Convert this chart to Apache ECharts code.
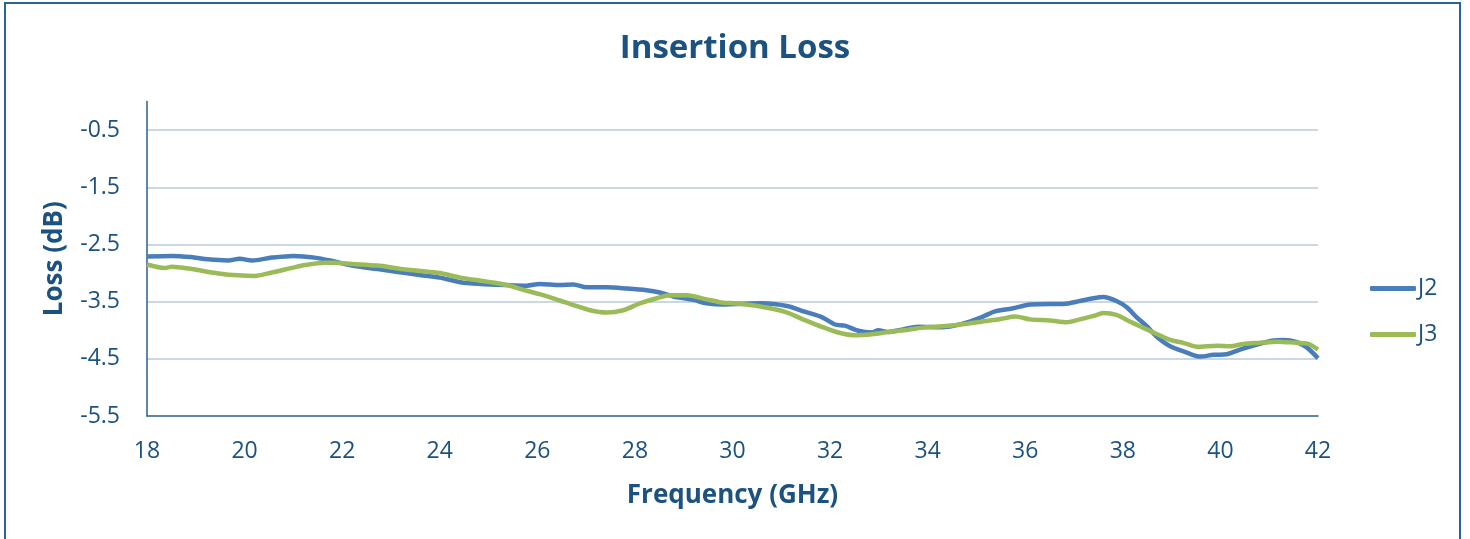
<!DOCTYPE html>
<html>
<head>
<meta charset="utf-8">
<script src="https://cdn.jsdelivr.net/npm/echarts@6/dist/echarts.min.js"></script>
<style>
html,body{margin:0;padding:0;background:#fff;}
#chart{width:1470px;height:539px;}
</style>
</head>
<body>
<div id="chart"></div>
<script>
const titleText = 'Insertion Loss';
const xAxisName = 'Frequency (GHz)';
const yAxisName = 'Loss (dB)';
const seriesNames = ['J2', 'J3'];

const j2Freq = [18.0, 18.5, 18.9, 19.25, 19.66, 19.9, 20.15, 20.56, 21.0, 21.44, 21.8, 22.2, 22.73, 23.14, 23.55, 24.0, 24.42, 24.83, 25.37, 25.78, 26.05, 26.46, 26.74, 27.01, 27.42, 27.83, 28.24, 28.51, 28.79, 29.2, 29.47, 29.81, 30.05, 30.6, 31.14, 31.42, 31.83, 32.1, 32.3, 32.58, 32.86, 32.99, 33.19, 33.47, 33.81, 34.29, 34.7, 35.11, 35.38, 35.73, 36.1, 36.51, 36.78, 37.12, 37.4, 37.6, 37.87, 38.08, 38.28, 38.49, 38.69, 38.97, 39.31, 39.58, 39.86, 40.13, 40.4, 40.75, 41.09, 41.29, 41.57, 41.77, 42.0];
const j2Loss = [-2.71, -2.70, -2.72, -2.76, -2.78, -2.75, -2.78, -2.73, -2.70, -2.73, -2.79, -2.87, -2.93, -2.98, -3.03, -3.08, -3.16, -3.19, -3.21, -3.22, -3.19, -3.21, -3.20, -3.25, -3.25, -3.27, -3.30, -3.34, -3.41, -3.47, -3.53, -3.55, -3.54, -3.53, -3.58, -3.66, -3.77, -3.90, -3.92, -4.01, -4.04, -4.00, -4.03, -3.99, -3.94, -3.95, -3.89, -3.77, -3.67, -3.62, -3.55, -3.54, -3.54, -3.49, -3.44, -3.42, -3.49, -3.60, -3.77, -3.93, -4.11, -4.28, -4.39, -4.46, -4.43, -4.42, -4.34, -4.25, -4.18, -4.17, -4.21, -4.30, -4.49];

const j3Freq = [18.0, 18.37, 18.5, 18.92, 19.33, 19.67, 20.2, 20.56, 20.97, 21.24, 21.65, 21.85, 22.2, 22.73, 23.14, 23.55, 24.0, 24.42, 24.96, 25.37, 25.78, 26.05, 26.46, 26.74, 27.08, 27.42, 27.76, 28.1, 28.45, 28.72, 29.06, 29.47, 29.81, 30.05, 30.6, 31.08, 31.42, 31.83, 32.17, 32.51, 32.86, 33.19, 33.6, 33.95, 34.29, 34.77, 35.11, 35.52, 35.79, 36.1, 36.51, 36.85, 37.12, 37.4, 37.6, 37.87, 38.08, 38.35, 38.63, 38.97, 39.24, 39.52, 39.93, 40.2, 40.47, 40.81, 41.16, 41.57, 41.77, 42.0];
const j3Loss = [-2.85, -2.91, -2.89, -2.93, -2.99, -3.03, -3.05, -2.99, -2.91, -2.86, -2.82, -2.82, -2.84, -2.87, -2.92, -2.96, -3.00, -3.08, -3.15, -3.21, -3.31, -3.37, -3.48, -3.56, -3.65, -3.69, -3.65, -3.53, -3.44, -3.39, -3.39, -3.46, -3.52, -3.53, -3.59, -3.68, -3.80, -3.94, -4.04, -4.09, -4.07, -4.03, -3.99, -3.95, -3.93, -3.89, -3.85, -3.80, -3.76, -3.81, -3.83, -3.86, -3.81, -3.75, -3.70, -3.73, -3.82, -3.93, -4.04, -4.17, -4.22, -4.29, -4.27, -4.28, -4.24, -4.22, -4.20, -4.22, -4.23, -4.34];

const textColor = '#1b5281';
const font = '"Open Sans", "Noto Sans", sans-serif';

function zip(xs, ys) { return xs.map((x, i) => [x, ys[i]]); }

const chart = echarts.init(document.getElementById('chart'), null, {renderer: 'canvas'});
chart.setOption({
  animation: false,
  backgroundColor: '#fff',
  title: {
    text: titleText,
    left: 'center',
    top: 27,
    textStyle: {color: textColor, fontFamily: font, fontWeight: 'bold', fontSize: 33}
  },
  graphic: [{
    type: 'rect',
    shape: {x: 5, y: 3, width: 1455, height: 560},
    style: {fill: 'none', stroke: '#2a6592', lineWidth: 2},
    silent: true
  }],
  legend: {
    orient: 'vertical',
    left: 1365,
    top: 272,
    itemWidth: 46,
    itemHeight: 5,
    itemGap: 23,
    icon: 'roundRect',
    textStyle: {color: textColor, fontFamily: font, fontSize: 23, padding: [0, 0, 0, -3]},
    data: seriesNames
  },
  grid: {left: 147, right: 152, top: 101.5, bottom: 123, containLabel: false},
  xAxis: {
    type: 'value',
    min: 18, max: 42, interval: 2,
    name: xAxisName,
    nameLocation: 'middle',
    nameGap: 67,
    nameTextStyle: {color: textColor, fontFamily: font, fontWeight: 'bold', fontSize: 26},
    axisLine: {show: true, onZero: false, lineStyle: {color: '#2b5f8c', width: 1.5}},
    axisTick: {show: false},
    splitLine: {show: false},
    axisLabel: {color: textColor, fontFamily: font, fontSize: 23, margin: 24}
  },
  yAxis: {
    type: 'value',
    min: -5.5, max: 0, interval: 1,
    name: yAxisName,
    nameLocation: 'middle',
    nameGap: 79,
    nameRotate: 90,
    nameTextStyle: {color: textColor, fontFamily: font, fontWeight: 'bold', fontSize: 26},
    axisLine: {show: true, lineStyle: {color: '#2b5f8c', width: 1.5}},
    axisTick: {show: false},
    splitLine: {show: true, showMaxLine: false, showMinLine: false, lineStyle: {color: '#cbd8e4', width: 2}},
    axisLabel: {color: textColor, fontFamily: font, fontSize: 23, margin: 27, showMaxLabel: false}
  },
  series: [
    {
      name: seriesNames[0], type: 'line', data: zip(j2Freq, j2Loss),
      showSymbol: false, smooth: 0.3,
      lineStyle: {color: '#4a7ebb', width: 4.5},
      itemStyle: {color: '#4a7ebb'}
    },
    {
      name: seriesNames[1], type: 'line', data: zip(j3Freq, j3Loss),
      showSymbol: false, smooth: 0.3,
      lineStyle: {color: '#9bbb59', width: 4.5},
      itemStyle: {color: '#9bbb59'}
    }
  ]
});
</script>
</body>
</html>
